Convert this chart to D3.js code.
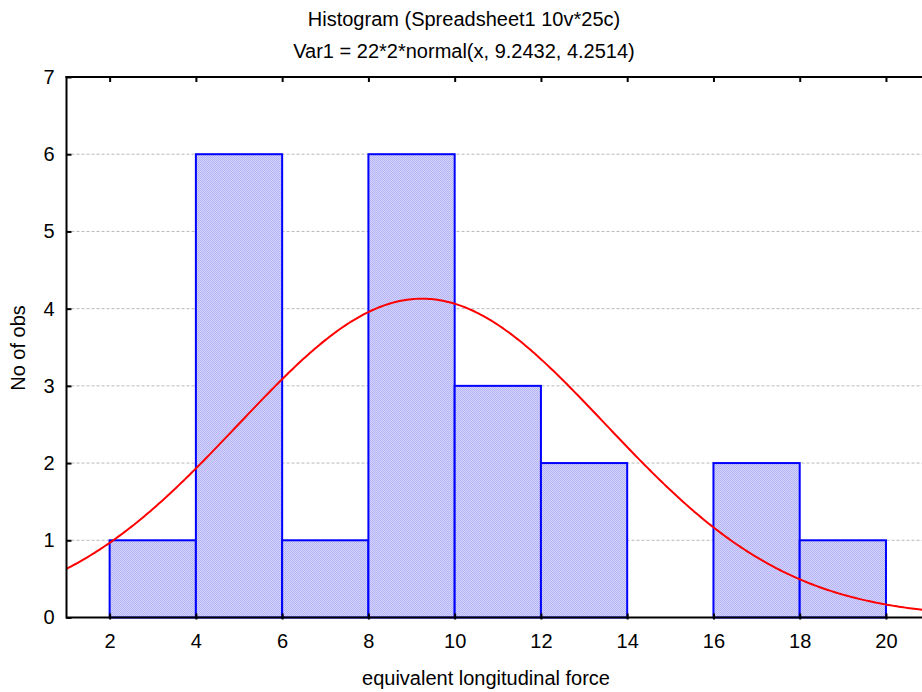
<!DOCTYPE html>
<html>
<head>
<meta charset="utf-8">
<script src="https://cdn.jsdelivr.net/npm/d3@7"></script>
<style>
  body { margin: 0; background: #fff; }
  svg { display: block; font-family: "Liberation Sans", Arial, sans-serif; }
</style>
</head>
<body>
<div class="chart"></div>
<script>
// histogram bins (lower edge, upper edge) and counts
const binStart = [2, 4, 6, 8, 10, 12, 14, 16, 18];
const binEnd   = [4, 6, 8, 10, 12, 14, 16, 18, 20];
const counts   = [1, 6, 1, 6, 3, 2, 0, 2, 1];

const xTicks = [2, 4, 6, 8, 10, 12, 14, 16, 18, 20];
const yTicks = [0, 1, 2, 3, 4, 5, 6, 7];

// fitted curve parameters, from the title: 22*2*normal(x, 9.2432, 4.2514)
const nObs = 22, binWidth = 2, fitMean = 9.2432, fitSd = 4.2514;

const title1 = "Histogram (Spreadsheet1 10v*25c)";
const title2 = "Var1 = 22*2*normal(x, 9.2432, 4.2514)";
const xLabel = "equivalent longitudinal force";
const yLabel = "No of obs";

const chartW = 922, chartH = 692;
const plotLeft = 66.5, plotTop = 77, plotBottom = 617.5;
const fontSize = 20;

let x = d3.scaleLinear().domain([1, 21]).range([plotLeft, plotLeft + 20 * 43.13]);
let y = d3.scaleLinear().domain([0, 7]).range([plotBottom, plotTop]);

const svg = d3.select(".chart").append("svg")
    .attr("width", chartW)
    .attr("height", chartH);

const defs = svg.append("defs");
const pat = defs.append("pattern")
    .attr("id", "hatch")
    .attr("width", 2).attr("height", 2)
    .attr("patternUnits", "userSpaceOnUse");
pat.append("rect").attr("width", 2).attr("height", 2).attr("fill", "#d4d4fc");
pat.append("rect").attr("width", 1).attr("height", 1).attr("fill", "#b4b4f4");
pat.append("rect").attr("x", 1).attr("y", 1).attr("width", 1).attr("height", 1).attr("fill", "#b4b4f4");

// gridlines
svg.append("g").selectAll("line").data(yTicks.filter(d => d > 0 && d < 7)).enter()
    .append("line")
        .attr("x1", plotLeft).attr("x2", chartW)
        .attr("y1", d => y(d)).attr("y2", d => y(d))
        .attr("stroke", "#b8b8b8")
        .attr("stroke-width", 1)
        .attr("stroke-dasharray", "3,2");

// bars
let bins = binStart.map((s, i) => ({ s: s, e: binEnd[i], n: counts[i] })).filter(d => d.n > 0);
svg.append("g").selectAll("rect").data(bins).enter()
    .append("rect")
        .attr("x", d => x(d.s))
        .attr("y", d => y(d.n))
        .attr("width", d => x(d.e) - x(d.s))
        .attr("height", d => y(0) - y(d.n))
        .attr("fill", "url(#hatch)")
        .attr("stroke", "#0000ff")
        .attr("stroke-width", 2);

// normal fit curve
let curveX = d3.range(1, 21.001, 0.05);
let fit = function (v) {
    return nObs * binWidth * Math.exp(-0.5 * Math.pow((v - fitMean) / fitSd, 2)) / (fitSd * Math.sqrt(2 * Math.PI));
};
svg.append("path")
    .datum(curveX)
    .attr("fill", "none")
    .attr("stroke", "#ff0000")
    .attr("stroke-width", 2)
    .attr("d", d3.line().x(d => x(d)).y(d => y(fit(d))));

// axes
let bottomAxis = d3.axisBottom(x).tickValues(xTicks).tickSize(0).tickPadding(16).tickFormat(d3.format("d"));
let gx = svg.append("g").attr("transform", `translate(0,${plotBottom})`).call(bottomAxis);
gx.select(".domain").attr("stroke-width", 2).attr("d", `M${plotLeft},0H${chartW}`);
gx.selectAll(".tick text").attr("font-size", fontSize).attr("font-family", "Liberation Sans, Arial, sans-serif").attr("fill", "#000");
gx.selectAll(".tick").append("line").attr("y1", -4).attr("y2", 2).attr("stroke", "#000").attr("stroke-width", 2);

let topAxis = d3.axisTop(x).tickValues(xTicks).tickSize(0).tickFormat("");
let gt = svg.append("g").attr("transform", `translate(0,${plotTop})`).call(topAxis);
gt.select(".domain").attr("stroke-width", 2).attr("d", `M${plotLeft - 1},0H${chartW}`);
gt.selectAll(".tick").append("line").attr("y1", 0).attr("y2", 5).attr("stroke", "#000").attr("stroke-width", 2);

let leftAxis = d3.axisLeft(y).tickValues(yTicks).tickSize(0).tickPadding(12).tickFormat(d3.format("d"));
let gy = svg.append("g").attr("transform", `translate(${plotLeft},0)`).call(leftAxis);
gy.select(".domain").attr("stroke-width", 2).attr("d", `M0,${plotTop - 1}V${plotBottom + 1}`);
gy.selectAll(".tick text").attr("font-size", fontSize).attr("font-family", "Liberation Sans, Arial, sans-serif").attr("fill", "#000");
gy.selectAll(".tick").append("line").attr("x1", 0).attr("x2", 5).attr("stroke", "#000").attr("stroke-width", 2);

// titles
svg.append("text").attr("x", 464).attr("y", 26).attr("text-anchor", "middle")
    .attr("font-size", fontSize).text(title1);
svg.append("text").attr("x", 464).attr("y", 58).attr("text-anchor", "middle")
    .attr("font-size", fontSize).text(title2);
svg.append("text").attr("x", 486).attr("y", 685).attr("text-anchor", "middle")
    .attr("font-size", fontSize).text(xLabel);
svg.append("text").attr("transform", "translate(25,348) rotate(-90)").attr("text-anchor", "middle")
    .attr("font-size", fontSize).text(yLabel);
</script>
</body>
</html>
